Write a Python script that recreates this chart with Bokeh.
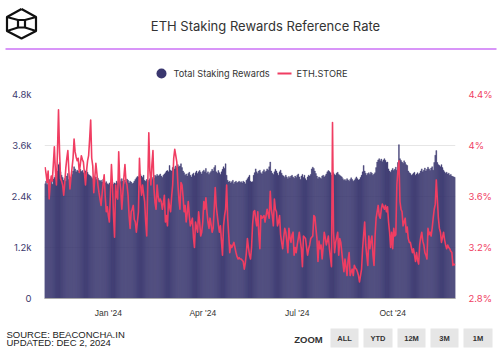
import pandas as pd
from bokeh.plotting import figure
from bokeh.models import Range1d, LinearAxis, FixedTicker
from bokeh.layouts import column
from bokeh.embed import file_html
from bokeh.resources import INLINE
from bokeh.core.properties import value

# ---------------- data ----------------
start_date = "2023-11-01"

# Total Staking Rewards (daily, ETH)
rewards = [
    2700, 2760, 2680, 2740, 2800, 2720, 2780, 2690, 2810, 2850,
    2900, 2960, 3000, 3150, 3200, 2980, 2900, 2850, 2780, 2820,
    2760, 2880, 2940, 2800, 2750, 2850, 2920, 3000, 3100, 3050,
    2980, 3020, 3000, 2950, 3040, 2990, 3010, 2960, 2940, 3000,
    3030, 2970, 2920, 2900, 2880, 2850, 2820, 2870, 2840, 2860,
    2800, 2830, 2790, 2760, 2780, 2740, 2800, 2770, 2720, 2750,
    2700, 2680, 2720, 2650, 2700, 2740, 2690, 2720, 2700, 2760,
    2720, 2780, 2800, 2750, 2820, 2760, 2700, 2790, 2740, 2810,
    2780, 2720, 2760, 2740, 2700, 2720, 2760, 2800, 2840, 2870,
    2860, 2900, 2920, 2880, 2850, 2900, 2780, 2760, 2800, 2740,
    2780, 2820, 2760, 2800, 2850, 2830, 2900, 2870, 2920, 2880,
    2900, 2930, 2880, 2850, 2900, 2930, 2960, 3000, 3010, 2980,
    3130, 3020, 3000, 3080, 3100, 3050, 3120, 3080, 3150, 3100,
    3120, 3170, 3080, 3000, 2960, 2900, 2930, 2880, 2940, 2970,
    2900, 2860, 2920, 2950, 2890, 2960, 3000, 2940, 2980, 3010,
    2970, 2930, 2990, 3020, 2980, 3060, 2950, 2980, 2920, 2960,
    2990, 3040, 3000, 3080, 3130, 2980, 2950, 3010, 2960, 2920,
    2980, 3040, 3100, 3060, 3170, 2900, 2780, 2740, 2760, 2720,
    2750, 2780, 2700, 2740, 2760, 2720, 2740, 2760, 2730, 2750,
    2720, 2760, 2740, 2700, 2780, 2820, 2860, 2900, 2760, 2740,
    2750, 2900, 2960, 3050, 2980, 2940, 3000, 3020, 2960, 2930,
    2990, 3030, 2970, 3000, 3050, 3020, 3100, 3210, 3000, 2950,
    2920, 2980, 3040, 3000, 2950, 2900, 2980, 3020, 2950, 2900,
    2880, 2850, 2900, 2860, 2820, 2870, 2840, 2880, 2900, 2860,
    2830, 2880, 2850, 2900, 2930, 2860, 2800, 2880, 2920, 2850,
    2900, 2820, 2780, 2860, 2900, 2880, 2920, 3050, 3090, 3060,
    3000, 2940, 2880, 2820, 2860, 2840, 2820, 2880, 2900, 2860,
    2890, 2930, 2980, 3010, 2990, 2960, 2900, 2940, 2960, 2920,
    2900, 2950, 2970, 2920, 2900, 2880, 2860, 2820, 2780, 2800,
    2770, 2820, 2790, 2760, 2800, 2840, 2800, 2760, 2780, 2820,
    2860, 2820, 2790, 2800, 2850, 2900, 2980, 3130, 3000, 2950,
    2900, 2940, 2960, 2920, 2970, 2950, 2900, 2930, 2960, 3080,
    3210, 3260, 3290, 3240, 3280, 3220, 3260, 3290, 3250, 3200,
    3210, 3050, 3000, 2970, 3020, 3060, 3010, 3040, 3090, 3020,
    3200, 3620, 3290, 3250, 3210, 3180, 3240, 3200, 3150, 3130,
    3000, 2960, 2940, 2900, 2920, 2950, 2970, 2900, 2930, 2960,
    2920, 2950, 3000, 3050, 2980, 3020, 3070, 3000, 3040, 3090,
    3050, 3010, 3070, 3100, 3020, 3200, 3370, 3480, 3200, 3150,
    3130, 3100, 3150, 3080, 3020, 2980, 2950, 2970, 2930, 2950,
    2900, 2920, 2880, 2870, 2860, 2850,
]

# ETH.STORE rate (daily, %)
eth_store = [
    3.83, 3.78, 3.71, 3.80, 3.58, 3.70, 3.76, 3.72, 3.85, 3.99,
    3.80, 3.69, 3.95, 4.28, 3.95, 3.74, 3.72, 3.69, 3.61, 3.70,
    3.82, 3.90, 3.96, 3.80, 3.66, 3.75, 3.82, 3.90, 4.05, 3.95,
    3.91, 3.88, 3.90, 3.79, 3.85, 3.92, 3.89, 3.87, 3.78, 3.69,
    3.80, 3.88, 3.92, 4.05, 4.20, 3.90, 3.84, 3.63, 3.75, 3.86,
    3.78, 3.69, 3.63, 3.58, 3.53, 3.62, 3.70, 3.77, 3.60, 3.48,
    3.52, 3.45, 3.40, 3.62, 3.85, 3.69, 3.45, 3.28, 3.69, 3.60,
    3.58, 3.95, 3.72, 3.65, 3.50, 3.63, 3.75, 3.85, 3.72, 3.69,
    3.61, 3.45, 3.35, 3.48, 3.50, 3.53, 3.42, 3.40, 3.32, 3.40,
    3.48, 3.90, 3.70, 3.61, 3.69, 3.62, 3.56, 3.40, 3.29, 3.69,
    4.10, 3.80, 3.69, 3.85, 3.96, 3.66, 3.55, 3.50, 3.69, 3.60,
    3.56, 3.58, 3.56, 3.50, 3.55, 3.61, 3.40, 3.45, 3.37, 3.58,
    3.52, 3.48, 3.60, 3.69, 3.90, 3.97, 3.92, 3.87, 3.70, 3.58,
    3.50, 3.71, 3.69, 3.60, 3.48, 3.53, 3.40, 3.47, 3.56, 3.45,
    3.37, 3.40, 3.43, 3.28, 3.20, 3.40, 3.36, 3.32, 3.48, 3.40,
    3.29, 3.32, 3.40, 3.56, 3.50, 3.59, 3.48, 3.40, 3.35, 3.43,
    3.38, 3.32, 3.35, 3.50, 3.67, 3.52, 3.45, 3.38, 3.32, 3.37,
    3.25, 3.14, 3.37, 3.45, 3.50, 3.69, 3.43, 3.30, 3.16, 3.22,
    3.20, 3.22, 3.24, 3.20, 3.16, 3.13, 3.11, 3.12, 3.11, 3.11,
    3.10, 3.09, 3.03, 3.08, 3.16, 3.27, 3.20, 3.14, 3.11, 3.20,
    3.38, 3.48, 3.49, 3.42, 3.37, 3.48, 3.30, 3.19, 3.45, 3.43,
    3.44, 3.45, 3.40, 3.45, 3.50, 3.46, 3.43, 3.64, 3.50, 3.45,
    3.37, 3.58, 3.50, 3.48, 3.37, 3.40, 3.45, 3.30, 3.24, 3.19,
    3.28, 3.35, 3.32, 3.25, 3.16, 3.35, 3.28, 3.24, 3.30, 3.32,
    3.14, 3.20, 3.16, 3.22, 3.27, 3.32, 3.25, 3.19, 3.05, 3.29,
    3.28, 3.27, 3.20, 3.14, 3.19, 3.22, 3.27, 3.28, 3.29, 3.45,
    3.44, 3.35, 3.27, 3.09, 3.25, 3.19, 3.22, 3.11, 3.20, 3.32,
    3.28, 3.22, 3.25, 3.29, 3.19, 3.12, 3.05, 4.18, 3.32, 3.16,
    3.24, 3.28, 3.32, 3.14, 3.27, 3.24, 3.16, 3.08, 3.01, 3.11,
    3.05, 2.98, 3.10, 3.16, 2.98, 3.01, 3.03, 2.98, 3.06, 3.04,
    3.03, 3.01, 2.98, 2.93, 2.98, 3.03, 3.19, 3.30, 3.40, 3.22,
    3.14, 3.06, 3.29, 3.19, 3.25, 3.29, 3.14, 3.06, 3.29, 3.43,
    3.48, 3.53, 3.45, 3.43, 3.50, 3.54, 3.52, 3.50, 3.53, 3.48,
    3.52, 3.40, 3.32, 3.20, 3.32, 3.19, 3.35, 3.29, 3.30, 3.69,
    3.80, 3.88, 3.56, 3.50, 3.48, 3.37, 3.40, 3.43, 3.32, 3.36,
    3.27, 3.24, 3.24, 3.20, 3.16, 3.19, 3.14, 3.09, 3.16, 3.10,
    3.07, 3.22, 3.28, 3.32, 3.25, 3.22, 3.16, 3.14, 3.11, 3.35,
    3.30, 3.32, 3.29, 3.35, 3.43, 3.50, 3.54, 3.73, 3.58, 3.43,
    3.35, 3.32, 3.24, 3.28, 3.32, 3.26, 3.22, 3.19, 3.22, 3.20,
    3.19, 3.17, 3.16, 3.06, 3.07, 3.06,
]

left_ticks = [0, 1200, 2400, 3600, 4800]
left_tick_labels = ["0", "1.2k", "2.4k", "3.6k", "4.8k"]
right_ticks = [2.8, 3.2, 3.6, 4.0, 4.4]
right_tick_labels = ["2.8%", "3.2%", "3.6%", "4%", "4.4%"]
x_tick_dates = ["2024-01-01", "2024-04-01", "2024-07-01", "2024-10-01"]
x_tick_labels = ["Jan '24", "Apr '24", "Jul '24", "Oct '24"]

title_text = "ETH Staking Rewards Reference Rate"
series_names = ["Total Staking Rewards", "ETH.STORE"]
source_lines = ["SOURCE: BEACONCHA.IN", "UPDATED: DEC 2, 2024"]
zoom_buttons = ["ALL", "YTD", "12M", "3M", "1M"]

# ---------------- styles ----------------
BAR = "#3a376f"
RED = "#f03d62"
NAVY_TXT = "#3d3a6e"
W = 499

dates = pd.date_range(start_date, periods=len(rewards), freq="D")
line_dates = dates[:len(eth_store)]
half_day = pd.Timedelta(hours=12)
DAY_MS = 86400000


def no_align(fig):
    try:
        fig.frame_align = False
    except Exception:
        pass


def bare(height, y0, y1):
    f = figure(width=W, height=height, x_range=Range1d(0, W), y_range=Range1d(y1, y0),
               output_backend="svg", toolbar_location=None,
               x_axis_location=None, y_axis_location=None,
               min_border=0, min_border_left=0, min_border_right=0,
               min_border_top=0, min_border_bottom=0)
    f.grid.visible = False
    f.outline_line_color = None
    f.background_fill_color = "white"
    f.border_fill_color = "white"
    no_align(f)
    return f


# ---------------- header ----------------
h = bare(85, 0, 85)
hexagon_x = [21, 35.5, 35.5, 21, 6.5, 6.5, 21]
hexagon_y = [8.5, 16.5, 30.5, 38, 30.5, 16.5, 8.5]
h.line(hexagon_x, hexagon_y, line_color="#111111", line_width=2.2, line_join="round")
h.line([17.5, 24.5, 24.5, 17.5, 17.5], [19.5, 19.5, 27, 27, 19.5], line_color="#111111", line_width=2.2)
h.multi_line([[6.5, 17.5], [35.5, 24.5], [6.5, 17.5], [35.5, 24.5]],
             [[16.5, 19.5], [16.5, 19.5], [30.5, 27], [30.5, 27]],
             line_color="#111111", line_width=2)
h.text(x=[265], y=[25], text=[title_text], text_align="center", text_baseline="middle",
       text_font=value("Inter"), text_font_size="13px", text_color="#333333")
h.line([5, 496], [48.5, 48.5], line_color="#b22cf2", line_width=1.2)
# legend
h.scatter(x=[161], y=[73], size=10, marker="circle", fill_color=BAR, line_color=None)
h.text(x=[173], y=[73], text=[series_names[0]], text_align="left", text_baseline="middle",
       text_font=value("Inter"), text_font_size="9.2px", text_color="#333333")
h.line([277, 291], [73, 73], line_color=RED, line_width=2)
h.text(x=[296], y=[73], text=[series_names[1]], text_align="left", text_baseline="middle",
       text_font=value("Inter"), text_font_size="9.2px", text_color="#333333")

# ---------------- main chart ----------------
p = figure(width=W, height=240, x_axis_type="datetime",
           x_range=Range1d(dates[0] - half_day, dates[-1] + half_day),
           y_range=Range1d(0, 4800),
           output_backend="svg", toolbar_location=None,
           min_border_left=44, min_border_right=44, min_border_top=9, min_border_bottom=27)
no_align(p)
p.extra_y_ranges = {"pct": Range1d(2.8, 4.4)}
p.outline_line_color = None
p.background_fill_color = "white"
p.border_fill_color = "white"
p.xgrid.visible = False
p.ygrid.ticker = FixedTicker(ticks=left_ticks)
p.ygrid.grid_line_color = "#e6e6e6"

p.vbar(x=dates, top=rewards, width=0.85 * DAY_MS, fill_color=BAR,
       line_color=BAR, line_width=0.4)
p.line(x=line_dates, y=eth_store, y_range_name="pct", line_color=RED, line_width=1.6,
       line_join="round")

tick_ms = [pd.Timestamp(d).value / 1e6 for d in x_tick_dates]
xa = p.xaxis[0]
xa.ticker = FixedTicker(ticks=tick_ms)
xa.major_label_overrides = {t: lab for t, lab in zip(tick_ms, x_tick_labels)}
xa.axis_line_color = "#a8a8a8"
xa.major_tick_line_color = None
xa.minor_tick_line_color = None
xa.major_tick_out = 0
xa.major_label_standoff = 9
xa.major_label_text_font = "Liberation Sans"
xa.major_label_text_font_size = "8.5px"
xa.major_label_text_color = "#333333"

ya = p.yaxis[0]
ya.ticker = FixedTicker(ticks=left_ticks)
ya.major_label_overrides = {t: lab for t, lab in zip(left_ticks, left_tick_labels)}
ya.axis_line_color = None
ya.major_tick_line_color = None
ya.minor_tick_line_color = None
ya.major_tick_out = 0
ya.major_label_standoff = 13
ya.major_label_text_font = "Inter"
ya.major_label_text_font_size = "9.5px"
ya.major_label_text_color = NAVY_TXT

ra = LinearAxis(y_range_name="pct", ticker=FixedTicker(ticks=right_ticks))
ra.major_label_overrides = {t: lab for t, lab in zip(right_ticks, right_tick_labels)}
ra.axis_line_color = None
ra.major_tick_line_color = None
ra.minor_tick_line_color = None
ra.major_tick_out = 0
ra.major_label_standoff = 13
ra.major_label_text_font = "Inter"
ra.major_label_text_font_size = "9.5px"
ra.major_label_text_color = RED
p.add_layout(ra, "right")

# ---------------- footer ----------------
f = bare(30, 325, 355)
f.text(x=[6, 6], y=[334, 342], text=source_lines, text_align="left", text_baseline="middle",
       text_font=value("Liberation Sans"), text_font_size="9.5px", text_color="#222222")
f.text(x=[308], y=[338.5], text=["ZOOM"], text_align="center", text_baseline="middle",
       text_font=value("Liberation Sans"), text_font_size="9.5px", text_font_style="bold",
       text_color="#333333")
btn_left = [330, 363, 397, 430, 463]
btn_right = [358, 392, 425, 458, 492]
f.quad(left=btn_left, right=btn_right, top=[328] * 5, bottom=[347] * 5,
       fill_color="#e6e6e6", line_color=None)
f.text(x=[(a + b) / 2 for a, b in zip(btn_left, btn_right)], y=[338] * 5, text=zoom_buttons,
       text_align="center", text_baseline="middle", text_font=value("Liberation Sans"),
       text_font_size="7.5px", text_font_style="bold", text_color="#333333")

layout = column(h, p, f, spacing=0)
open("out.html", "w").write(file_html(layout, INLINE))
